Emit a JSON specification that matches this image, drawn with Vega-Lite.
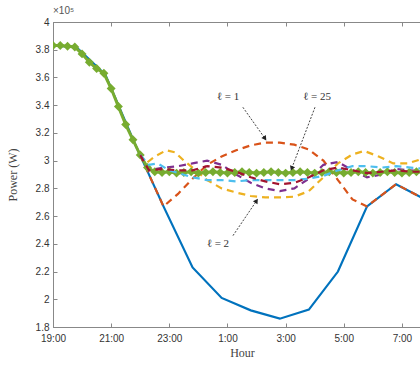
{
  "$schema": "https://vega.github.io/schema/vega-lite/v6.json",
  "width": 378,
  "height": 305,
  "autosize": "none",
  "padding": {"left": 53, "top": 22, "right": 0, "bottom": 42},
  "config": {
    "view": {"stroke": "#888", "strokeWidth": 1},
    "axis": {"grid": false, "domainColor": "#888", "tickColor": "#888", "labelColor": "#333", "labelFont": "Liberation Sans", "labelFontSize": 10, "labelOverlap": false, "titleFont": "Liberation Serif", "titleFontWeight": "normal", "titleFontSize": 12, "titleColor": "#444"}
  },
  "title": {"text": "×10⁵", "anchor": "start", "frame": "group", "fontSize": 10, "fontWeight": "normal", "font": "Liberation Sans", "color": "#555", "offset": 1},
  "resolve": {"axis": {"x": "independent"}},
  "datasets": {
    "lines": [
      {"s": "base", "h": 0, "p": 3.83}, {"s": "base", "h": 0.8, "p": 3.82}, {"s": "base", "h": 1.8, "p": 3.62}, {"s": "base", "h": 2.8, "p": 3.13}, {"s": "base", "h": 3.8, "p": 2.67}, {"s": "base", "h": 4.8, "p": 2.23}, {"s": "base", "h": 5.8, "p": 2.01}, {"s": "base", "h": 6.8, "p": 1.92}, {"s": "base", "h": 7.8, "p": 1.86}, {"s": "base", "h": 8.8, "p": 1.925}, {"s": "base", "h": 9.8, "p": 2.2}, {"s": "base", "h": 10.8, "p": 2.67}, {"s": "base", "h": 11.8, "p": 2.83}, {"s": "base", "h": 12.8, "p": 2.72},

      {"s": "l1", "h": 3.0, "p": 3.04}, {"s": "l1", "h": 3.3, "p": 2.9}, {"s": "l1", "h": 3.8, "p": 2.67}, {"s": "l1", "h": 4.3, "p": 2.76}, {"s": "l1", "h": 4.8, "p": 2.87}, {"s": "l1", "h": 5.3, "p": 2.97}, {"s": "l1", "h": 5.8, "p": 3.03}, {"s": "l1", "h": 6.3, "p": 3.075}, {"s": "l1", "h": 6.8, "p": 3.11}, {"s": "l1", "h": 7.3, "p": 3.13}, {"s": "l1", "h": 7.8, "p": 3.13}, {"s": "l1", "h": 8.3, "p": 3.115}, {"s": "l1", "h": 8.8, "p": 3.08}, {"s": "l1", "h": 9.3, "p": 3.0}, {"s": "l1", "h": 9.8, "p": 2.86}, {"s": "l1", "h": 10.3, "p": 2.72}, {"s": "l1", "h": 10.8, "p": 2.67}, {"s": "l1", "h": 11.8, "p": 2.83}, {"s": "l1", "h": 12.8, "p": 2.72},

      {"s": "l2", "h": 3.0, "p": 3.04}, {"s": "l2", "h": 3.2, "p": 2.98}, {"s": "l2", "h": 3.5, "p": 3.03}, {"s": "l2", "h": 3.9, "p": 3.075}, {"s": "l2", "h": 4.2, "p": 3.06}, {"s": "l2", "h": 4.5, "p": 3.0}, {"s": "l2", "h": 4.8, "p": 2.95}, {"s": "l2", "h": 5.3, "p": 2.86}, {"s": "l2", "h": 5.8, "p": 2.8}, {"s": "l2", "h": 6.3, "p": 2.77}, {"s": "l2", "h": 6.8, "p": 2.745}, {"s": "l2", "h": 7.3, "p": 2.735}, {"s": "l2", "h": 7.8, "p": 2.735}, {"s": "l2", "h": 8.3, "p": 2.74}, {"s": "l2", "h": 8.8, "p": 2.78}, {"s": "l2", "h": 9.3, "p": 2.88}, {"s": "l2", "h": 9.8, "p": 2.98}, {"s": "l2", "h": 10.3, "p": 3.045}, {"s": "l2", "h": 10.7, "p": 3.07}, {"s": "l2", "h": 11.2, "p": 3.03}, {"s": "l2", "h": 11.7, "p": 2.98}, {"s": "l2", "h": 12.2, "p": 2.98}, {"s": "l2", "h": 12.8, "p": 3.02},

      {"s": "l3", "h": 3.0, "p": 3.04}, {"s": "l3", "h": 3.3, "p": 2.93}, {"s": "l3", "h": 3.8, "p": 2.95}, {"s": "l3", "h": 4.3, "p": 2.96}, {"s": "l3", "h": 4.8, "p": 2.98}, {"s": "l3", "h": 5.3, "p": 3.0}, {"s": "l3", "h": 5.8, "p": 2.97}, {"s": "l3", "h": 6.3, "p": 2.9}, {"s": "l3", "h": 6.8, "p": 2.84}, {"s": "l3", "h": 7.3, "p": 2.8}, {"s": "l3", "h": 7.8, "p": 2.78}, {"s": "l3", "h": 8.3, "p": 2.8}, {"s": "l3", "h": 8.8, "p": 2.87}, {"s": "l3", "h": 9.3, "p": 2.97}, {"s": "l3", "h": 9.8, "p": 2.99}, {"s": "l3", "h": 10.3, "p": 2.93}, {"s": "l3", "h": 10.8, "p": 2.88}, {"s": "l3", "h": 11.3, "p": 2.9}, {"s": "l3", "h": 11.8, "p": 2.94}, {"s": "l3", "h": 12.3, "p": 2.93}, {"s": "l3", "h": 12.8, "p": 2.92},

      {"s": "l4", "h": 3.0, "p": 3.04}, {"s": "l4", "h": 3.3, "p": 2.97}, {"s": "l4", "h": 3.6, "p": 2.98}, {"s": "l4", "h": 4.0, "p": 2.93}, {"s": "l4", "h": 4.8, "p": 2.88}, {"s": "l4", "h": 5.3, "p": 2.86}, {"s": "l4", "h": 5.8, "p": 2.86}, {"s": "l4", "h": 6.3, "p": 2.85}, {"s": "l4", "h": 6.8, "p": 2.86}, {"s": "l4", "h": 7.3, "p": 2.86}, {"s": "l4", "h": 7.8, "p": 2.86}, {"s": "l4", "h": 8.3, "p": 2.86}, {"s": "l4", "h": 8.8, "p": 2.87}, {"s": "l4", "h": 9.3, "p": 2.89}, {"s": "l4", "h": 9.8, "p": 2.93}, {"s": "l4", "h": 10.3, "p": 2.96}, {"s": "l4", "h": 10.8, "p": 2.96}, {"s": "l4", "h": 11.3, "p": 2.95}, {"s": "l4", "h": 11.8, "p": 2.96}, {"s": "l4", "h": 12.3, "p": 2.95}, {"s": "l4", "h": 12.8, "p": 2.94},

      {"s": "l5", "h": 3.0, "p": 3.04}, {"s": "l5", "h": 3.3, "p": 2.93}, {"s": "l5", "h": 3.8, "p": 2.94}, {"s": "l5", "h": 4.3, "p": 2.93}, {"s": "l5", "h": 4.8, "p": 2.93}, {"s": "l5", "h": 5.3, "p": 2.96}, {"s": "l5", "h": 5.8, "p": 2.95}, {"s": "l5", "h": 6.3, "p": 2.92}, {"s": "l5", "h": 6.8, "p": 2.88}, {"s": "l5", "h": 7.3, "p": 2.85}, {"s": "l5", "h": 7.8, "p": 2.83}, {"s": "l5", "h": 8.3, "p": 2.84}, {"s": "l5", "h": 8.8, "p": 2.88}, {"s": "l5", "h": 9.3, "p": 2.93}, {"s": "l5", "h": 9.8, "p": 2.95}, {"s": "l5", "h": 10.3, "p": 2.93}, {"s": "l5", "h": 10.8, "p": 2.91}, {"s": "l5", "h": 11.3, "p": 2.92}, {"s": "l5", "h": 11.8, "p": 2.93}, {"s": "l5", "h": 12.3, "p": 2.92}, {"s": "l5", "h": 12.8, "p": 2.92},

      {"s": "l25", "h": 0, "p": 3.83}, {"s": "l25", "h": 0.25, "p": 3.83}, {"s": "l25", "h": 0.5, "p": 3.825}, {"s": "l25", "h": 0.75, "p": 3.82}, {"s": "l25", "h": 1.0, "p": 3.77}, {"s": "l25", "h": 1.25, "p": 3.71}, {"s": "l25", "h": 1.5, "p": 3.665}, {"s": "l25", "h": 1.75, "p": 3.63}, {"s": "l25", "h": 2.0, "p": 3.52}, {"s": "l25", "h": 2.25, "p": 3.39}, {"s": "l25", "h": 2.5, "p": 3.26}, {"s": "l25", "h": 2.75, "p": 3.15}, {"s": "l25", "h": 3.0, "p": 3.04}, {"s": "l25", "h": 3.25, "p": 2.95}, {"s": "l25", "h": 3.5, "p": 2.92}, {"s": "l25", "h": 3.75, "p": 2.915}, {"s": "l25", "h": 4.0, "p": 2.92}, {"s": "l25", "h": 4.25, "p": 2.91}, {"s": "l25", "h": 4.5, "p": 2.915}, {"s": "l25", "h": 4.75, "p": 2.92}, {"s": "l25", "h": 5.0, "p": 2.91}, {"s": "l25", "h": 5.25, "p": 2.915}, {"s": "l25", "h": 5.5, "p": 2.92}, {"s": "l25", "h": 5.75, "p": 2.915}, {"s": "l25", "h": 6.0, "p": 2.91}, {"s": "l25", "h": 6.25, "p": 2.915}, {"s": "l25", "h": 6.5, "p": 2.92}, {"s": "l25", "h": 6.75, "p": 2.915}, {"s": "l25", "h": 7.0, "p": 2.91}, {"s": "l25", "h": 7.25, "p": 2.915}, {"s": "l25", "h": 7.5, "p": 2.92}, {"s": "l25", "h": 7.75, "p": 2.915}, {"s": "l25", "h": 8.0, "p": 2.91}, {"s": "l25", "h": 8.25, "p": 2.915}, {"s": "l25", "h": 8.5, "p": 2.92}, {"s": "l25", "h": 8.75, "p": 2.915}, {"s": "l25", "h": 9.0, "p": 2.91}, {"s": "l25", "h": 9.25, "p": 2.915}, {"s": "l25", "h": 9.5, "p": 2.92}, {"s": "l25", "h": 9.75, "p": 2.915}, {"s": "l25", "h": 10.0, "p": 2.91}, {"s": "l25", "h": 10.25, "p": 2.915}, {"s": "l25", "h": 10.5, "p": 2.92}, {"s": "l25", "h": 10.75, "p": 2.915}, {"s": "l25", "h": 11.0, "p": 2.91}, {"s": "l25", "h": 11.25, "p": 2.915}, {"s": "l25", "h": 11.5, "p": 2.92}, {"s": "l25", "h": 11.75, "p": 2.915}, {"s": "l25", "h": 12.0, "p": 2.91}, {"s": "l25", "h": 12.25, "p": 2.915}, {"s": "l25", "h": 12.5, "p": 2.92}, {"s": "l25", "h": 12.75, "p": 2.915}
    ],
    "labels": [
      {"t": "ℓ = 1", "h": 6.02, "p": 3.457},
      {"t": "ℓ = 25", "h": 9.08, "p": 3.457},
      {"t": "ℓ = 2", "h": 5.67, "p": 2.4}
    ],
    "arrows": [
      {"a": "l1", "h": 6.53, "p": 3.385, "h2": 7.29, "p2": 3.16},
      {"a": "l25", "h": 9.01, "p": 3.385, "h2": 8.21, "p2": 2.944},
      {"a": "l2", "h": 6.19, "p": 2.459, "h2": 7.0, "p2": 2.71}
    ]
  },
  "layer": [
    {
      "data": {"name": "lines"},
      "transform": [{"filter": "datum.s === 'base'"}],
      "mark": {"type": "line", "strokeWidth": 2.2, "clip": true},
      "encoding": {
        "x": {"field": "h", "type": "quantitative", "scale": {"domain": [0, 13], "nice": false},
          "axis": {"values": [0, 2, 4, 6, 8, 10, 12], "tickCount": 20, "labelExpr": "((datum.value + 19) % 24) + ':00'", "title": "Hour", "tickSize": -4, "labelPadding": 10, "titlePadding": 4, "labelFlush": false, "labelOverlap": false}},
        "y": {"field": "p", "type": "quantitative", "scale": {"domain": [1.8, 4], "nice": false, "zero": false},
          "axis": {"values": [1.8, 2, 2.2, 2.4, 2.6, 2.8, 3, 3.2, 3.4, 3.6, 3.8, 4], "tickCount": 30, "format": "~g", "title": "Power (W)", "tickSize": -4, "labelPadding": 8, "titlePadding": 16, "labelOverlap": false, "labelFlush": false, "labelBound": false}},
        "color": {"field": "s", "type": "nominal", "legend": null,
          "scale": {"domain": ["base", "l1", "l2", "l3", "l25", "l4", "l5"], "range": ["#0072BD", "#D95319", "#EDB120", "#7E2F8E", "#77AC30", "#4DBEEE", "#A2142F"]}},
        "detail": {"field": "s"}
      }
    },
    {
      "data": {"name": "lines"},
      "transform": [{"filter": "datum.s === 'l1' || datum.s === 'l2' || datum.s === 'l3'"}],
      "mark": {"type": "line", "strokeWidth": 2.2, "strokeDash": [7, 5], "clip": true},
      "encoding": {
        "x": {"field": "h", "type": "quantitative", "axis": null},
        "y": {"field": "p", "type": "quantitative"},
        "color": {"field": "s", "type": "nominal", "legend": null}
      }
    },
    {
      "data": {"name": "lines"},
      "transform": [{"filter": "datum.s === 'l25'"}],
      "mark": {"type": "line", "strokeWidth": 3, "clip": true},
      "encoding": {
        "x": {"field": "h", "type": "quantitative", "axis": null},
        "y": {"field": "p", "type": "quantitative"},
        "color": {"field": "s", "type": "nominal", "legend": null}
      }
    },
    {
      "data": {"name": "lines"},
      "transform": [{"filter": "datum.s === 'l25'"}],
      "mark": {"type": "point", "shape": "diamond", "filled": true, "size": 80, "opacity": 1, "clip": true},
      "encoding": {
        "x": {"field": "h", "type": "quantitative", "axis": null},
        "y": {"field": "p", "type": "quantitative"},
        "color": {"field": "s", "type": "nominal", "legend": null}
      }
    },
    {
      "data": {"name": "lines"},
      "transform": [{"filter": "datum.s === 'l4' || datum.s === 'l5'"}],
      "mark": {"type": "line", "strokeWidth": 2.2, "strokeDash": [7, 5], "clip": true},
      "encoding": {
        "x": {"field": "h", "type": "quantitative", "axis": null},
        "y": {"field": "p", "type": "quantitative"},
        "color": {"field": "s", "type": "nominal", "legend": null}
      }
    },
    {
      "data": {"name": "arrows"},
      "mark": {"type": "rule", "color": "#444", "strokeWidth": 1, "strokeDash": [2, 1.5]},
      "encoding": {
        "x": {"field": "h", "type": "quantitative", "axis": null},
        "y": {"field": "p", "type": "quantitative"},
        "x2": {"field": "h2"},
        "y2": {"field": "p2"}
      }
    },
    {
      "data": {"name": "arrows"},
      "transform": [{"filter": "datum.a === 'l1'"}],
      "mark": {"type": "point", "shape": "triangle-up", "filled": true, "color": "#222", "size": 30, "opacity": 1, "angle": 145},
      "encoding": {"x": {"field": "h2", "type": "quantitative", "axis": null}, "y": {"field": "p2", "type": "quantitative"}}
    },
    {
      "data": {"name": "arrows"},
      "transform": [{"filter": "datum.a === 'l25'"}],
      "mark": {"type": "point", "shape": "triangle-up", "filled": true, "color": "#222", "size": 30, "opacity": 1, "angle": 201},
      "encoding": {"x": {"field": "h2", "type": "quantitative", "axis": null}, "y": {"field": "p2", "type": "quantitative"}}
    },
    {
      "data": {"name": "arrows"},
      "transform": [{"filter": "datum.a === 'l2'"}],
      "mark": {"type": "point", "shape": "triangle-up", "filled": true, "color": "#222", "size": 30, "opacity": 1, "angle": 34},
      "encoding": {"x": {"field": "h2", "type": "quantitative", "axis": null}, "y": {"field": "p2", "type": "quantitative"}}
    },
    {
      "data": {"name": "labels"},
      "mark": {"type": "text", "font": "Liberation Serif", "fontSize": 11, "color": "#333"},
      "encoding": {
        "x": {"field": "h", "type": "quantitative", "axis": null},
        "y": {"field": "p", "type": "quantitative"},
        "text": {"field": "t"}
      }
    },
    {
      "data": {"name": "labels"},
      "mark": {"type": "point", "opacity": 0},
      "encoding": {
        "x": {"field": "h", "type": "quantitative", "axis": {"orient": "top", "values": [0, 2, 4, 6, 8, 10, 12], "tickCount": 20, "labels": false, "title": null, "tickSize": -4, "domain": false}},
        "y": {"field": "p", "type": "quantitative"}
      }
    }
  ]
}
